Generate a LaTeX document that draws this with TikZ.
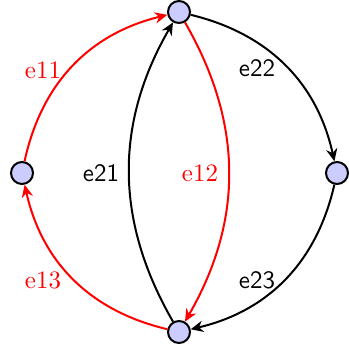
\documentclass[tikz,border=0pt]{standalone}
\usetikzlibrary{arrows.meta}
\begin{document}
\begin{tikzpicture}[x=0.4pt, y=0.4pt,
  vtx/.style={circle, draw, thick, fill=blue!20, inner sep=0pt, minimum size=8.8pt},
  arc/.style={thick, -{Stealth[length=5pt, width=4.5pt]}},
  lblr/.style={text=red, font=\rmfamily},
  lbls/.style={font=\sffamily}]
  \useasboundingbox (0,0) rectangle (348,354);
  % vertices
  \node[vtx] (top) at (179,342) {};
  \node[vtx] (left) at (22,181) {};
  \node[vtx] (right) at (337,181) {};
  \node[vtx] (bot) at (179,22) {};
  % red cycle
  \draw[arc, red] (left) to[bend left=32] (top);
  \draw[arc, red] (top) to[bend left=30] (bot);
  \draw[arc, red] (bot) to[bend left=32] (left);
  % black cycle
  \draw[arc] (bot) to[bend left=30] (top);
  \draw[arc] (top) to[bend left=32] (right);
  \draw[arc] (right) to[bend left=32] (bot);
  % labels
  \node[lblr] (l11) at (43,284) {e11};
  \node[lblr] (l12) at (200,181) {e12};
  \node[lblr] (l13) at (43,74) {e13};
  \node[lbls] (l21) at (101,181) {e21};
  \node[lbls] (l22) at (257,286) {e22};
  \node[lbls] (l23) at (257,74) {e23};
\end{tikzpicture}
\end{document}
